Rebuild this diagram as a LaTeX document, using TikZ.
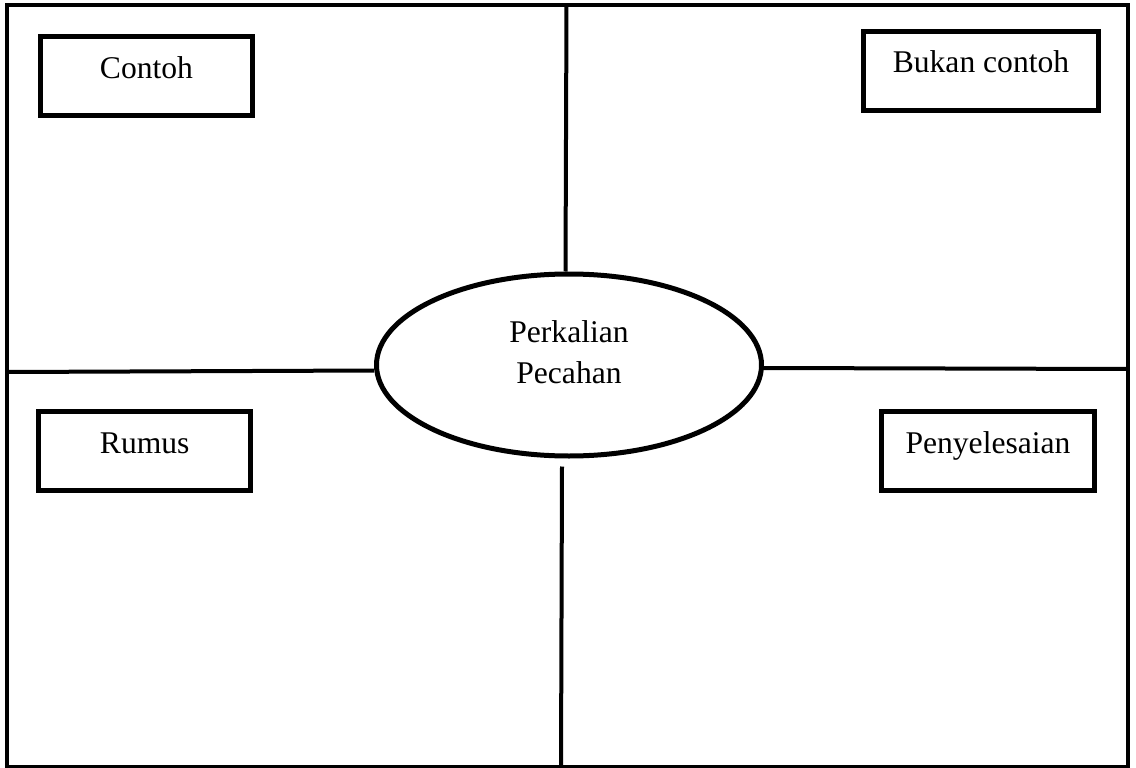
\documentclass[tikz,border=0pt]{standalone}
\usepackage{fontspec}
\setmainfont{Liberation Serif}
\usepackage{tikz}
\usetikzlibrary{shapes,positioning}

\tikzset{
  label box/.style={draw,line width=5pt,rectangle,minimum height=79pt,
    text height=24pt,text depth=20pt,inner sep=0pt,
    font=\fontsize{31.6}{41}\selectfont},
  divider/.style={line width=4pt}
}

\begin{document}
\begin{tikzpicture}[x=1pt,y=-1pt]
\useasboundingbox (0,0) rectangle (1136,768);
\draw[line width=4.5pt] (7,5) rectangle (1128,767);
% central topic
\node[draw,ellipse,line width=5pt,minimum width=385pt,minimum height=182pt,inner sep=0pt] (topic) at (569,365) {};
\node[align=center,font=\fontsize{31.6}{41}\selectfont] (topictext) at (569,352) {Perkalian\\Pecahan};
% quadrant boxes
\node[label box,minimum width=212pt] (contoh) at (146.5,76) {Contoh};
\node[label box,minimum width=235pt] (bukan) at (981,71) {Bukan contoh};
\node[label box,minimum width=211.5pt] (rumus) at (144.7,451) {Rumus};
\node[label box,minimum width=212.5pt] (penyelesaian) at (988,451) {Penyelesaian};
% dividers
\coordinate (topend) at (566.5,5);
\coordinate (bottomend) at (561,767);
\coordinate (leftend) at (7,372);
\coordinate (rightend) at (1128,369);
\draw[divider] (topend) -- (topic.north -| 565.5,0);
\draw[divider] ([yshift=-8pt]topic.south -| 562,0) -- (bottomend);
\draw[divider] (leftend) -- (topic.west |- 0,370.5);
\draw[divider] (topic.east |- 0,368) -- (rightend);
\end{tikzpicture}
\end{document}
